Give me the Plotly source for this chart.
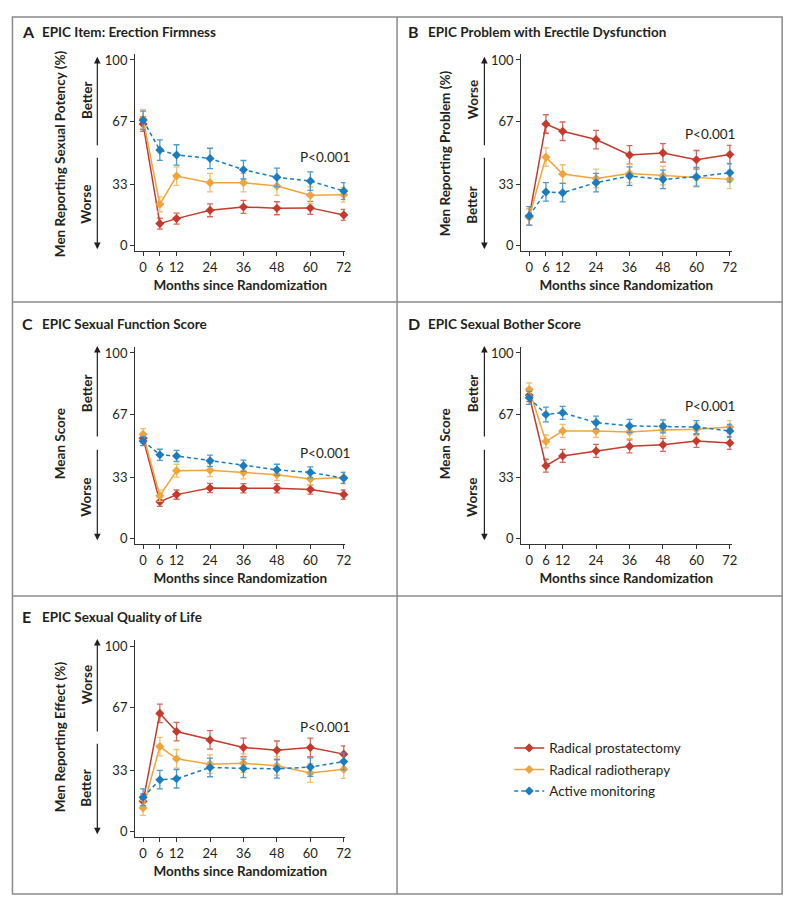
import plotly.graph_objects as go

W, H = 800, 910
OFF = 8  # page body margin offset

months = [0, 6, 12, 24, 36, 48, 60, 72]
month_labels = ["0", "6", "12", "24", "36", "48", "60", "72"]
y_ticks = [0, 33, 67, 100]
y_tick_labels = ["0", "33", "67", "100"]
series_names = ["Radical prostatectomy", "Radical radiotherapy", "Active monitoring"]

# Panel A: EPIC Item: Erection Firmness (% reporting sexual potency)
a_prost = [65.4, 11.6, 14.3, 18.8, 20.6, 19.9, 20.1, 16.3]
a_radio = [68.1, 22.0, 37.3, 33.7, 33.7, 31.9, 26.9, 27.2]
a_active = [67.4, 51.3, 48.7, 46.8, 40.7, 36.6, 34.6, 29.2]
a_prost_err = [4.0, 3.0, 3.0, 3.5, 3.5, 3.5, 3.5, 3.0]
a_radio_err = [5.0, 4.0, 5.0, 5.0, 5.0, 5.0, 4.5, 4.0]
a_active_err = [5.0, 5.5, 5.5, 5.5, 5.0, 5.0, 5.0, 4.5]

# Panel B: EPIC Problem with Erectile Dysfunction
b_prost = [15.2, 65.4, 61.5, 57.0, 48.7, 49.8, 46.1, 48.9]
b_radio = [15.2, 47.5, 38.4, 36.0, 38.7, 37.5, 36.4, 35.5]
b_active = [15.8, 28.7, 28.3, 33.7, 37.3, 35.5, 36.9, 39.1]
b_prost_err = [4.5, 5.0, 5.0, 5.0, 5.0, 5.0, 5.0, 5.0]
b_radio_err = [4.5, 5.0, 5.0, 5.0, 5.0, 5.0, 5.0, 5.0]
b_active_err = [5.0, 5.0, 5.0, 5.0, 5.0, 5.0, 5.0, 5.0]

# Panel C: EPIC Sexual Function Score
c_prost = [53.9, 19.7, 23.5, 27.1, 26.9, 26.9, 26.3, 23.5]
c_radio = [56.1, 22.9, 36.4, 36.7, 35.5, 34.2, 31.9, 32.8]
c_active = [52.5, 45.0, 44.4, 41.8, 39.1, 36.9, 35.5, 32.4]
c_prost_err = [2.5, 2.5, 2.5, 2.5, 2.5, 2.5, 2.5, 2.5]
c_radio_err = [3.0, 3.0, 3.5, 3.5, 3.5, 3.0, 3.0, 3.0]
c_active_err = [2.5, 3.0, 3.0, 3.0, 3.0, 3.0, 3.0, 3.0]

# Panel D: EPIC Sexual Bother Score
d_prost = [77.2, 39.1, 44.4, 47.1, 49.6, 50.4, 52.5, 51.4]
d_radio = [80.3, 52.2, 57.9, 57.9, 57.3, 58.4, 58.8, 60.0]
d_active = [75.8, 66.8, 67.7, 62.4, 60.6, 60.4, 60.0, 57.9]
d_prost_err = [3.5, 3.5, 3.5, 3.5, 3.5, 3.5, 3.5, 3.5]
d_radio_err = [3.5, 3.5, 3.5, 3.5, 3.5, 3.5, 3.5, 3.5]
d_active_err = [3.5, 4.0, 3.5, 3.5, 3.5, 3.5, 3.5, 3.5]

# Panel E: EPIC Sexual Quality of Life
e_prost = [16.1, 63.6, 53.8, 49.3, 45.2, 43.7, 45.2, 41.6]
e_radio = [12.5, 45.7, 39.1, 36.2, 36.7, 35.3, 31.4, 33.5]
e_active = [18.3, 27.8, 28.3, 34.4, 33.9, 33.7, 34.6, 37.6]
e_prost_err = [4.0, 5.0, 5.0, 5.0, 5.0, 5.0, 5.0, 4.5]
e_radio_err = [4.0, 5.0, 5.0, 5.0, 5.0, 5.0, 5.0, 5.0]
e_active_err = [4.5, 5.0, 5.0, 5.0, 5.0, 5.0, 5.0, 4.5]

panel_letters = ["A", "B", "C", "D", "E"]
panel_titles = ["EPIC Item: Erection Firmness", "EPIC Problem with Erectile Dysfunction",
                "EPIC Sexual Function Score", "EPIC Sexual Bother Score",
                "EPIC Sexual Quality of Life"]
y_titles = ["Men Reporting Sexual Potency (%)", "Men Reporting Problem (%)",
            "Mean Score", "Mean Score", "Men Reporting Effect (%)"]
up_labels = ["Better", "Worse", "Better", "Better", "Worse"]
down_labels = ["Worse", "Better", "Worse", "Worse", "Better"]
p_label = "P<0.001"

panel_data = [
    (a_prost, a_radio, a_active, a_prost_err, a_radio_err, a_active_err),
    (b_prost, b_radio, b_active, b_prost_err, b_radio_err, b_active_err),
    (c_prost, c_radio, c_active, c_prost_err, c_radio_err, c_active_err),
    (d_prost, d_radio, d_active, d_prost_err, d_radio_err, d_active_err),
    (e_prost, e_radio, e_active, e_prost_err, e_radio_err, e_active_err),
]

colors = ["#c53a2c", "#f0a53c", "#1b7dc0"]
err_colors = ["#d9685c", "#f4be70", "#4d9ad0"]
dashes = ["solid", "solid", "4px,3px"]

TEXT = "#231f20"
AX = "#333333"
FONT = "Lato"


def px(x):
    return (x - OFF) / W


def py(y):
    return 1 - (y - OFF) / H


positions = [(0, 0), (1, 0), (0, 1), (1, 1), (0, 2)]
x_left = [136, 525]
y_top = [52, 346, 640]

fig = go.Figure()
layout_axes = {}
annotations = []
shapes = []


def text_ann(x, y, text, size=13, angle=0, xanchor="center"):
    return dict(x=px(x), y=py(y), xref="paper", yref="paper", text=text,
                showarrow=False, textangle=angle, xanchor=xanchor, yanchor="middle",
                font=dict(family=FONT, size=size, color=TEXT))


for i, (c, r) in enumerate(positions):
    xa_l = x_left[c]
    xa_r = xa_l + 212
    ya_t = y_top[r]
    ya_b = ya_t + 198
    idx = "" if i == 0 else str(i + 1)
    xname = "x" + idx
    yname = "y" + idx
    data = panel_data[i]
    for s in range(3):
        fig.add_trace(go.Scatter(
            x=months, y=data[s], mode="lines+markers",
            name=series_names[s],
            showlegend=(i == 0),
            legendgroup=series_names[s],
            line=dict(color=colors[s], width=1.5, dash=dashes[s]),
            marker=dict(symbol="diamond", size=7, color=colors[s]),
            error_y=dict(type="data", array=data[s + 3], visible=True,
                         color=err_colors[s], thickness=1.3, width=3),
            xaxis=xname, yaxis=yname,
            cliponaxis=False,
        ))
    layout_axes["xaxis" + idx] = dict(
        domain=[px(xa_l), px(xa_r)], range=[-2.9, 72.6], anchor=yname,
        tickmode="array", tickvals=months, ticktext=month_labels,
        ticks="outside", ticklen=4, tickwidth=1, tickcolor=AX,
        showline=True, linecolor=AX, linewidth=1, showgrid=False, zeroline=False,
        tickfont=dict(family=FONT, size=13, color=TEXT),
        title=dict(text="<b>Months since Randomization</b>",
                   font=dict(family=FONT, size=13.5, color=TEXT), standoff=6),
        fixedrange=True,
    )
    layout_axes["yaxis" + idx] = dict(
        domain=[py(ya_b), py(ya_t)], range=[-3.3, 103.3], anchor=xname,
        tickmode="array", tickvals=y_ticks, ticktext=y_tick_labels,
        ticks="outside", ticklen=4, tickwidth=1, tickcolor=AX,
        showline=True, linecolor=AX, linewidth=1, showgrid=False, zeroline=False,
        tickfont=dict(family=FONT, size=13, color=TEXT),
        fixedrange=True,
    )
    # panel title
    tx = 20 if c == 0 else 409
    ty = [30, 323, 617][r]
    annotations.append(text_ann(tx, ty, "<b>" + panel_letters[i] + "</b>", 16, 0, "left"))
    annotations.append(text_ann(tx + 20, ty, "<b>" + panel_titles[i] + "</b>", 13.5, 0, "left"))
    # y title
    ymid = [152, 443, 737][r]
    ytx = 60 if c == 0 else 448
    annotations.append(text_ann(ytx, ymid, "<b>" + y_titles[i] + "</b>", 13.5, -90))
    # better / worse labels
    lx = 87 if c == 0 else 476
    up_c = [98, 392, 685][r]
    dn_c = [203, 497, 788][r]
    annotations.append(text_ann(lx, up_c, "<b>" + up_labels[i] + "</b>", 13.5, -90))
    annotations.append(text_ann(lx, dn_c, "<b>" + down_labels[i] + "</b>", 13.5, -90))
    # arrows
    arx = 98 if c == 0 else 488
    a_top, a_mid1, a_mid2, a_bot = [(55, 145, 155, 248), (345, 437, 448, 540),
                                    (639, 733, 743, 835)][r]
    annotations.append(dict(x=px(arx), y=py(a_top), xref="paper", yref="paper",
                            ax=0, ay=a_mid1 - a_top, axref="pixel", ayref="pixel",
                            showarrow=True, arrowhead=2, arrowsize=1.1, arrowwidth=1.2,
                            arrowcolor=TEXT, text=""))
    annotations.append(dict(x=px(arx), y=py(a_bot), xref="paper", yref="paper",
                            ax=0, ay=-(a_bot - a_mid2), axref="pixel", ayref="pixel",
                            showarrow=True, arrowhead=2, arrowsize=1.1, arrowwidth=1.2,
                            arrowcolor=TEXT, text=""))
    # p value
    pxp = 327 if c == 0 else 715
    pyp = {(0, 0): 155, (1, 0): 132, (0, 1): 452, (1, 1): 405, (0, 2): 727}[(c, r)]
    annotations.append(text_ann(pxp, pyp, p_label, 13.5))

# frame
FR = "#8a8a8a"
shapes.append(dict(type="rect", xref="paper", yref="paper", x0=px(12.5), x1=px(788),
                   y0=py(895), y1=py(15), line=dict(color=FR, width=1.5)))
shapes.append(dict(type="line", xref="paper", yref="paper", x0=px(400), x1=px(400),
                   y0=py(895), y1=py(15), line=dict(color=FR, width=1.5)))
shapes.append(dict(type="line", xref="paper", yref="paper", x0=px(12.5), x1=px(788),
                   y0=py(301), y1=py(301), line=dict(color=FR, width=1.5)))
shapes.append(dict(type="line", xref="paper", yref="paper", x0=px(12.5), x1=px(788),
                   y0=py(596), y1=py(596), line=dict(color=FR, width=1.5)))

fig.update_layout(
    width=W, height=H,
    margin=dict(l=0, r=0, t=0, b=0),
    paper_bgcolor="white", plot_bgcolor="white",
    showlegend=True,
    legend=dict(x=px(513), y=py(733), xanchor="left", yanchor="top",
                font=dict(family=FONT, size=13.5, color=TEXT),
                itemwidth=30, tracegroupgap=1, bgcolor="rgba(0,0,0,0)"),
    annotations=annotations,
    shapes=shapes,
    font=dict(family=FONT, color=TEXT),
    **layout_axes,
)

fig.write_html("out.html")
